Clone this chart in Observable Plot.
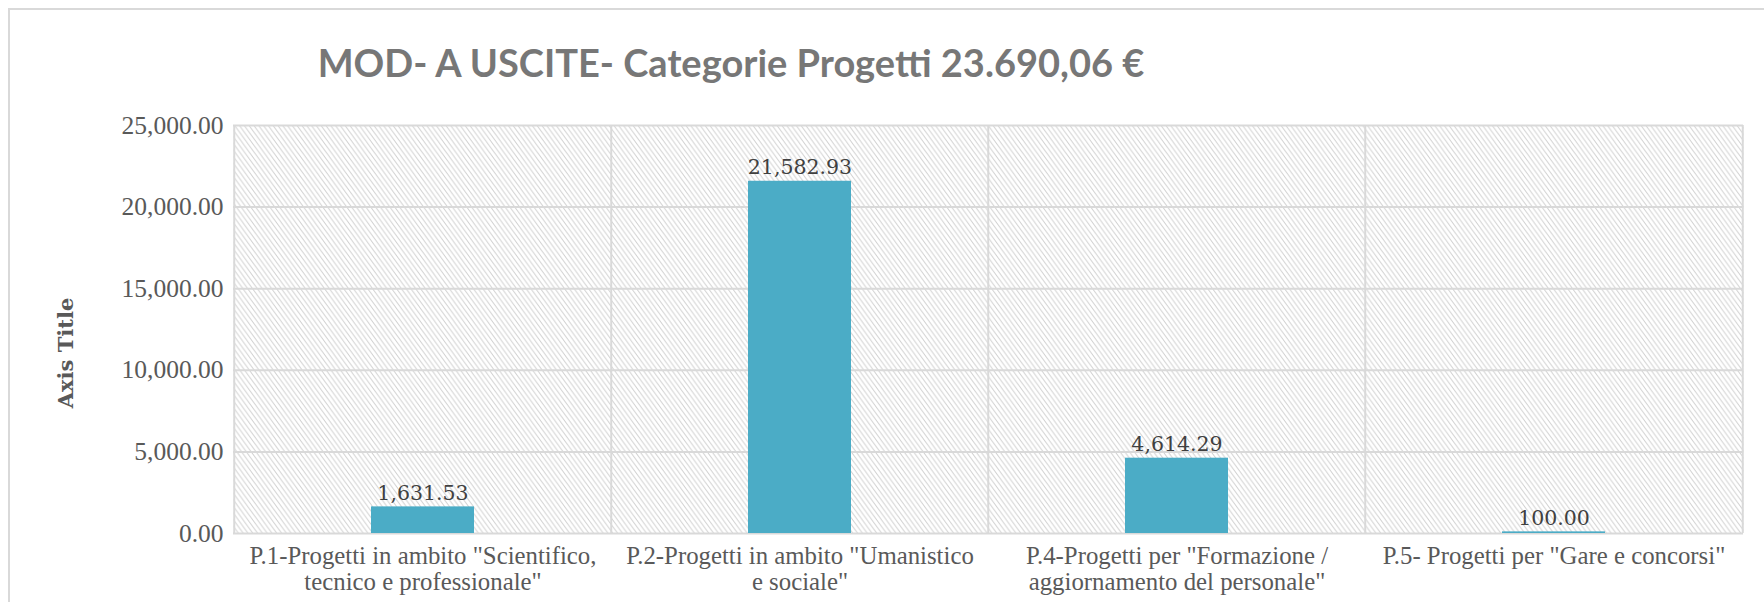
<!DOCTYPE html>
<html>
<head>
<meta charset="utf-8">
<script src="https://cdn.jsdelivr.net/npm/d3@7"></script>
<script src="https://cdn.jsdelivr.net/npm/@observablehq/plot@0.6"></script>
<style>
  html, body { margin: 0; padding: 0; background: #fff; }
  body { width: 1764px; height: 602px; overflow: hidden; position: relative; }
  #border { position: absolute; left: 8px; top: 8px; right: -20px; bottom: -20px; border: 2px solid #d9d9d9; pointer-events: none; }
  #title { position: absolute; left: 0; top: 0; width: 1462px; height: 100px; line-height: 124px; text-align: center;
           font-family: Lato, "Open Sans", sans-serif; font-weight: bold; font-size: 38px; color: #777777; }
  #ytitle { position: absolute; left: 65px; top: 353px; transform: translate(-50%, -50%) rotate(-90deg); white-space: nowrap;
            font-family: "DejaVu Serif", serif; font-weight: bold; font-size: 21px; color: #595959; z-index: 2; }
  #chart { position: absolute; left: 0; top: 100px; }
</style>
</head>
<body>
<div id="title">MOD- A USCITE- Categorie Progetti 23.690,06 €</div>
<div id="chart"></div>
<div id="ytitle"></div>
<div id="border"></div>
<script>
const categories = [
  'P.1-Progetti in ambito "Scientifico,\ntecnico e professionale"',
  'P.2-Progetti in ambito "Umanistico\ne sociale"',
  'P.4-Progetti per "Formazione /\naggiornamento del personale"',
  'P.5- Progetti per "Gare e concorsi"'
];
const values = [1631.53, 21582.93, 4614.29, 100.00];
const yTicks = [0, 5000, 10000, 15000, 20000, 25000];
const yTitle = "Axis Title";

document.getElementById("ytitle").textContent = yTitle;

const data = categories.map((c, i) => ({category: c, value: values[i]}));
const fmt = d3.format(",.2f");

const W = 1764, H = 502, mL = 233, mR = 21, mT = 25, mB = 69;
const halfStep = (W - mL - mR) / categories.length / 2;
const gridColor = "#d9d9d9";

const chart = Plot.plot({
  width: W, height: H,
  marginLeft: mL, marginRight: mR, marginTop: mT, marginBottom: mB,
  x: {domain: categories, paddingInner: 0.727, paddingOuter: 0.3635, label: null},
  y: {domain: [0, 25000], label: null},
  marks: [
    Plot.frame({fill: "url(#hatch)", stroke: "none"}),
    Plot.ruleY(yTicks, {stroke: gridColor, strokeWidth: 2}),
    Plot.ruleX(categories, {x: d => d, dx: -halfStep, stroke: gridColor, strokeWidth: 2}),
    Plot.ruleX([categories[categories.length - 1]], {x: d => d, dx: halfStep, stroke: gridColor, strokeWidth: 2}),
    Plot.barY(data, {x: "category", y: "value", fill: "#4bacc6"}),
    Plot.text(data, {x: "category", y: "value", text: d => fmt(d.value), lineAnchor: "bottom", dy: -7,
      fontFamily: "DejaVu Serif", fontSize: 20.5, fill: "#404040"}),
    Plot.axisY({ticks: yTicks, tickFormat: fmt, tickSize: 0, tickPadding: 10, label: null,
      fontFamily: "Liberation Serif", fontSize: 25.5, fill: "#595959"}),
    Plot.axisX({tickSize: 0, tickPadding: 12, label: null, lineHeight: 1.06,
      fontFamily: "Liberation Serif", fontSize: 24.8, fill: "#595959"})
  ]
});

const ns = "http://www.w3.org/2000/svg";
const defs = document.createElementNS(ns, "defs");
defs.innerHTML = '<pattern id="hatch" patternUnits="userSpaceOnUse" width="6" height="6" patternTransform="scale(0.8,1.1)">' +
  '<rect width="6" height="6" fill="#ffffff"/>' +
  '<path d="M-1,-1 L7,7 M-4,2 L2,8 M4,-2 L8,2" stroke="#cccccc" stroke-width="1"/></pattern>';
chart.insertBefore(defs, chart.firstChild);
document.getElementById("chart").appendChild(chart);
</script>
</body>
</html>
